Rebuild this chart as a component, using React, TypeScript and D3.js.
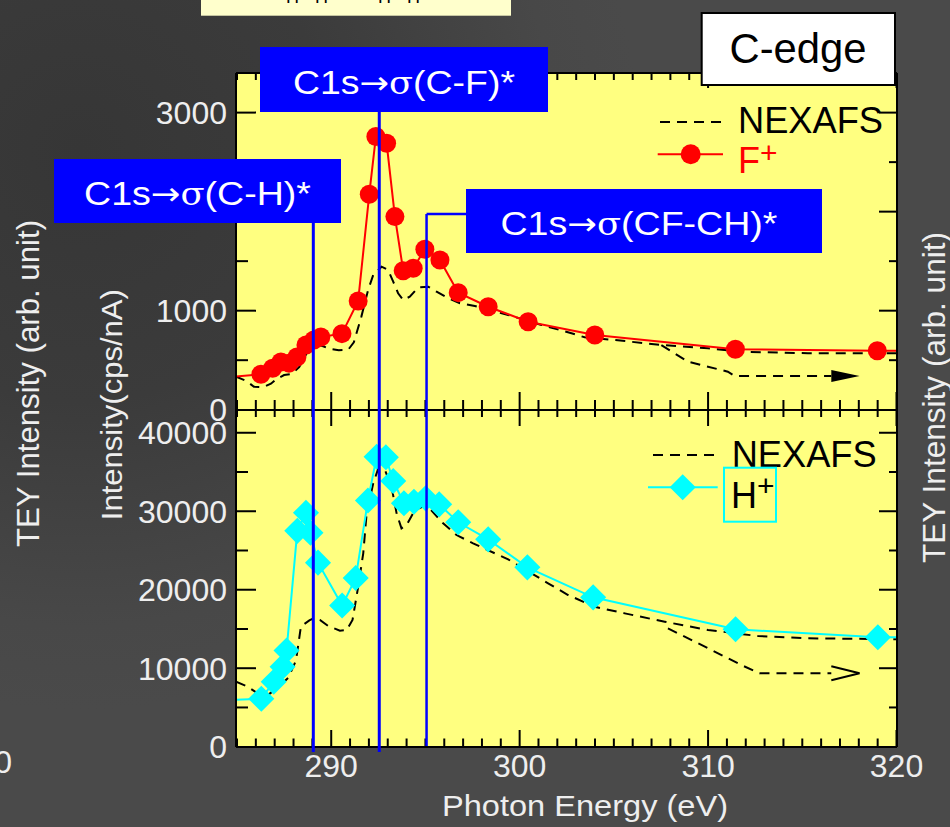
import * as d3 from 'd3'

type Pt = [number, number]

// photon energy (eV), F+ yield (cps/nA)
const fPlus: Pt[] = [
  [284.0, 320], [286.27, 358], [286.89, 418], [287.33, 482], [287.76, 470],
  [288.18, 532], [288.66, 654], [289.08, 704], [289.45, 734], [290.57, 768],
  [291.43, 1098], [292.02, 2176], [292.37, 2758], [292.94, 2691], [293.38, 1950],
  [293.82, 1404], [294.35, 1428], [294.97, 1620], [295.77, 1512], [296.74, 1182],
  [298.33, 1040], [300.45, 889], [303.99, 755], [311.45, 610], [318.98, 596],
  [321.5, 592],
]

const nexafsTop: Pt[] = [
  [284.9, 337], [285.5, 290], [285.9, 232], [286.4, 228], [286.8, 262],
  [287.1, 310], [287.5, 350], [287.9, 362], [288.3, 430], [288.7, 570],
  [289.05, 650], [289.5, 646], [289.9, 615], [290.4, 600], [290.9, 605],
  [291.2, 680], [291.6, 940], [291.96, 1210], [292.23, 1360], [292.67, 1444],
  [293.02, 1411], [293.29, 1293], [293.55, 1176], [293.82, 1108], [294.17, 1141],
  [294.62, 1236], [295.15, 1242], [295.59, 1192], [296.21, 1125], [296.83, 1075],
  [297.62, 1047], [299.39, 957], [301.16, 856], [302.75, 772], [303.45, 731],
  [305.05, 704], [307.52, 653], [310.0, 620], [311.76, 586], [315.3, 570],
  [320.5, 570],
]

const nexafsTopDrop: Pt[] = [
  [307.52, 653], [308.93, 485], [311.05, 384], [311.41, 340], [316.54, 340], [318.04, 340],
]

// photon energy (eV), H+ yield (cps/nA)
const hPlus: Pt[] = [
  [284.0, 5900], [286.29, 6120], [286.95, 8280], [287.42, 10190], [287.63, 12250],
  [288.2, 27500], [288.66, 29800], [288.9, 27260], [289.3, 23450], [290.58, 17980],
  [291.3, 21490], [291.95, 31380], [292.41, 36940], [292.9, 36870], [293.29, 33850],
  [293.86, 31010], [294.39, 31210], [295.01, 31640], [295.73, 30880], [296.74, 28590],
  [298.33, 26420], [300.41, 22850], [303.9, 19030], [311.46, 14960], [319.01, 13940],
  [321.5, 13920],
]

const nexafsBottom: Pt[] = [
  [284.95, 8280], [285.5, 7730], [286.1, 6800], [286.7, 6700], [287.2, 7600],
  [287.73, 8800], [288.13, 11000], [288.26, 13100], [288.39, 15300], [288.84, 16100],
  [289.05, 16350], [289.4, 16140], [289.84, 15380], [290.46, 14780], [290.82, 14870],
  [291.13, 16140], [291.43, 20380], [291.7, 24640], [291.88, 29730], [292.23, 33550],
  [292.5, 35470], [292.85, 35250], [293.2, 33120], [293.47, 29730], [293.73, 27820],
  [294.0, 28240], [294.44, 30150], [295.06, 30790], [295.94, 28460], [296.65, 26970],
  [297.53, 25910], [299.39, 23870], [301.51, 20820], [302.57, 19330], [303.98, 17830],
  [305.58, 16990], [307.7, 15920], [310.0, 14870], [312.65, 14100], [315.3, 13810],
  [320.5, 13680],
]

const nexafsBottomDrop: Pt[] = [
  [307.87, 15080], [310.0, 12540], [311.76, 10410], [312.73, 9350], [316.54, 9350], [318.04, 9350],
]

const xTicks = d3.range(285, 321, 1)
const xTickLabels = [290, 300, 310, 320]
const topYTicks = d3.range(500, 3001, 500)
const topYTickLabels = [0, 1000, 2000, 3000]
const bottomYTicks = d3.range(5000, 40001, 5000)
const bottomYTickLabels = [0, 10000, 20000, 30000, 40000]

const transitions = [
  { bond: '(C-H)*', energy: 289.05, box: [54, 159, 287, 64], baseline: 205, textW: 227, lineTop: 223, lineEnd: 752 },
  { bond: '(C-F)*', energy: 292.55, box: [260, 47, 288, 65], baseline: 94, textW: 222, lineTop: 111, lineEnd: 752 },
  { bond: '(CF-CH)*', energy: 295.06, box: [466, 189, 356, 64], baseline: 235, textW: 277, lineTop: 214, lineEnd: 746 },
]

const FONT = 'Liberation Sans, Arial, sans-serif'
const TXT = '#eeeeee'
const PLOT_BG = '#ffff80'
const BLUE = '#0000ff'
const RED = '#ff0000'
const CYAN = '#00ffff'
const DASH = '10,7'

const L = 236, R = 897, T = 73, M = 410, B = 747

export default function App() {
  const x = d3.scaleLinear().domain([285, 320]).range([237, 896.5])
  const yTop = d3.scaleLinear().domain([0, 3400]).range([409.7, T])
  const yBot = d3.scaleLinear().domain([0, 42900]).range([746.7, M])

  const lineTop = d3.line<Pt>().x(d => x(d[0])).y(d => yTop(d[1]))
  const lineBot = d3.line<Pt>().x(d => x(d[0])).y(d => yBot(d[1]))
  const inDomain = (d: Pt) => d[0] >= 285 && d[0] <= 320
  const diamond = d3.symbol(d3.symbolSquare, 340)()

  const topArrow = nexafsTopDrop.slice(-2)
  const botArrow = nexafsBottomDrop.slice(-2)

  return (
    <svg width={950} height={827} style={{ position: 'absolute', left: 0, top: 0, display: 'block' }} fontFamily={FONT}>
      <defs>
        <radialGradient id="bg" gradientUnits="userSpaceOnUse" cx={80} cy={150} r={560}>
          <stop offset="0" stopColor="#363636" />
          <stop offset="0.45" stopColor="#3b3b3b" />
          <stop offset="0.85" stopColor="#484848" />
          <stop offset="1" stopColor="#4a4a4a" />
        </radialGradient>
        <clipPath id="clipTop"><rect x={L} y={T} width={R - L} height={M - T} /></clipPath>
        <clipPath id="clipBot"><rect x={L} y={M} width={R - L} height={B - M} /></clipPath>
      </defs>

      <rect width={950} height={827} fill="url(#bg)" />

      {/* cut-off caption box at the top */}
      <rect x={201} y={0} width={310} height={15.7} fill="#ffffcc" />
      <text x={286} y={3} fontSize={18} letterSpacing={5.5} fill="#000">H H</text>
      <text x={378} y={3} fontSize={18} letterSpacing={5.5} fill="#000">H H</text>

      <rect x={L} y={T} width={R - L} height={B - T} fill={PLOT_BG} />

      {/* top panel */}
      <g clipPath="url(#clipTop)">
        <path d={lineTop(nexafsTop) ?? ''} fill="none" stroke="#000" strokeWidth={2} strokeDasharray={DASH} />
        <path d={lineTop(nexafsTopDrop.slice(0, -1)) ?? ''} fill="none" stroke="#000" strokeWidth={2} strokeDasharray={DASH} />
        <path d={lineTop(fPlus) ?? ''} fill="none" stroke={RED} strokeWidth={2} />
      </g>
      <polygon
        points={`${x(topArrow[0][0])},${yTop(topArrow[0][1]) - 6} ${x(topArrow[1][0])},${yTop(topArrow[1][1])} ${x(topArrow[0][0])},${yTop(topArrow[0][1]) + 6}`}
        fill="#000"
      />
      {fPlus.filter(inDomain).map((d, i) => (
        <circle key={i} cx={x(d[0])} cy={yTop(d[1])} r={9.5} fill={RED} />
      ))}

      {/* bottom panel */}
      <g clipPath="url(#clipBot)">
        <path d={lineBot(nexafsBottom) ?? ''} fill="none" stroke="#000" strokeWidth={2} strokeDasharray={DASH} />
        <path d={lineBot(nexafsBottomDrop.slice(0, -1)) ?? ''} fill="none" stroke="#000" strokeWidth={2} strokeDasharray={DASH} />
        <path d={lineBot(hPlus) ?? ''} fill="none" stroke={CYAN} strokeWidth={2} />
      </g>
      <polyline
        points={`${x(botArrow[0][0])},${yBot(botArrow[0][1]) - 7} ${x(botArrow[1][0])},${yBot(botArrow[1][1])} ${x(botArrow[0][0])},${yBot(botArrow[0][1]) + 7}`}
        fill="none" stroke="#000" strokeWidth={2}
      />
      {hPlus.filter(inDomain).map((d, i) => (
        <path key={i} d={diamond ?? ''} transform={`translate(${x(d[0])},${yBot(d[1])}) rotate(45)`} fill={CYAN} />
      ))}

      {/* frame */}
      <g stroke="#000" strokeWidth={2} fill="none">
        <line x1={L} x2={L} y1={T} y2={B} />
        <line x1={R} x2={R} y1={T} y2={B} />
        <line x1={L} x2={R} y1={T} y2={T} />
        <line x1={L} x2={R} y1={M} y2={M} />
        <line x1={L} x2={R} y1={B} y2={B} />
      </g>

      {/* ticks */}
      <g stroke="#000" strokeWidth={2}>
        {xTicks.map(v => {
          const major = v % 10 === 0
          const px = x(v)
          return (
            <g key={v}>
              <line x1={px} x2={px} y1={B} y2={B - (major ? 17 : 8.5)} />
              <line x1={px} x2={px} y1={T} y2={T + (major ? 15 : 7)} />
              <line x1={px} x2={px} y1={M - (major ? 18 : 10)} y2={M + (major ? 16 : 7)} />
            </g>
          )
        })}
        {topYTicks.map(v => {
          const major = v % 1000 === 0
          return (
            <g key={v}>
              <line x1={L} x2={L + (major ? 20 : 12)} y1={yTop(v)} y2={yTop(v)} />
              <line x1={R} x2={R - (major ? 18 : 8)} y1={yTop(v)} y2={yTop(v)} />
            </g>
          )
        })}
        {bottomYTicks.map(v => {
          const major = v % 10000 === 0
          return (
            <g key={v}>
              <line x1={L} x2={L + (major ? 20 : 12)} y1={yBot(v)} y2={yBot(v)} />
              <line x1={R} x2={R - (major ? 18 : 8)} y1={yBot(v)} y2={yBot(v)} />
            </g>
          )
        })}
      </g>

      {/* tick labels */}
      <g fill={TXT} fontSize={32}>
        {topYTickLabels.map(v => (
          <text key={v} x={227} y={yTop(v)} dy="0.36em" textAnchor="end">{v}</text>
        ))}
        {bottomYTickLabels.map(v => (
          <text key={v} x={227} y={yBot(v)} dy="0.36em" textAnchor="end">{v}</text>
        ))}
        {xTickLabels.map(v => (
          <text key={v} x={x(v)} y={777} textAnchor="middle">{v}</text>
        ))}
        <text x={12} y={773} textAnchor="end">0</text>
      </g>

      {/* transition markers */}
      {transitions.map(t => (
        <g key={t.bond}>
          <line x1={x(t.energy)} x2={x(t.energy)} y1={t.lineTop} y2={t.lineEnd} stroke={BLUE} strokeWidth={t.energy > 295 ? 2.5 : 3} />
          {t.box[0] > x(t.energy) && (
            <line x1={x(t.energy)} x2={t.box[0]} y1={t.lineTop} y2={t.lineTop} stroke={BLUE} strokeWidth={2.5} />
          )}
          <rect x={t.box[0]} y={t.box[1]} width={t.box[2]} height={t.box[3]} fill={BLUE} />
          <text
            x={t.box[0] + t.box[2] / 2 + (t.energy > 295 ? -5 : 0)}
            y={t.baseline}
            textAnchor="middle"
            fontSize={34}
            fill="#fff"
            textLength={t.textW}
            lengthAdjust="spacingAndGlyphs"
          >
            C1s<tspan fontFamily="DejaVu Sans" fontSize={32}>→</tspan><tspan fontFamily="DejaVu Serif" fontSize={32}>σ</tspan>{t.bond}
          </text>
        </g>
      ))}

      {/* legends */}
      <line x1={660} x2={723} y1={122} y2={122} stroke="#000" strokeWidth={2} strokeDasharray={DASH} />
      <text x={738} y={133.3} fontSize={36} fill="#000" textLength={145} lengthAdjust="spacingAndGlyphs">NEXAFS</text>
      <line x1={657.7} x2={723} y1={154.3} y2={154.3} stroke={RED} strokeWidth={2} />
      <circle cx={690.7} cy={154.3} r={10} fill={RED} />
      <text x={738} y={173.3} fontSize={36} fill={RED}>
        F<tspan fontSize={30} dy={-10}>+</tspan>
      </text>

      <line x1={653} x2={717} y1={455} y2={455} stroke="#000" strokeWidth={2} strokeDasharray={DASH} />
      <text x={731.7} y={466.7} fontSize={36} fill="#000" textLength={145} lengthAdjust="spacingAndGlyphs">NEXAFS</text>
      <line x1={648} x2={717.7} y1={487.3} y2={487.3} stroke={CYAN} strokeWidth={2} />
      <path d={diamond ?? ''} transform="translate(682.7,487.3) rotate(45)" fill={CYAN} />
      <rect x={724} y={467.7} width={52} height={54} fill="none" stroke={CYAN} strokeWidth={2} />
      <text x={731} y={508.3} fontSize={36} fill="#000">
        H<tspan fontSize={30} dy={-12}>+</tspan>
      </text>

      {/* edge tag */}
      <rect x={701.7} y={13} width={193.3} height={72} fill="#fff" stroke="#000" strokeWidth={2} />
      <text x={798} y={63} fontSize={42} textAnchor="middle" fill="#000" textLength={137} lengthAdjust="spacingAndGlyphs">C-edge</text>

      {/* axis titles */}
      <g fill={TXT}>
        <text transform="translate(38.5,383.5) rotate(-90)" textAnchor="middle" fontSize={31} textLength={327} lengthAdjust="spacingAndGlyphs">TEY Intensity (arb. unit)</text>
        <text transform="translate(121.5,404.7) rotate(-90)" textAnchor="middle" fontSize={30} textLength={231} lengthAdjust="spacingAndGlyphs">Intensity(cps/nA)</text>
        <text transform="translate(944.5,397.5) rotate(-90)" textAnchor="middle" fontSize={31} textLength={331} lengthAdjust="spacingAndGlyphs">TEY Intensity (arb. unit)</text>
        <text x={585} y={816} textAnchor="middle" fontSize={29} textLength={286} lengthAdjust="spacingAndGlyphs">Photon Energy (eV)</text>
      </g>
    </svg>
  )
}
